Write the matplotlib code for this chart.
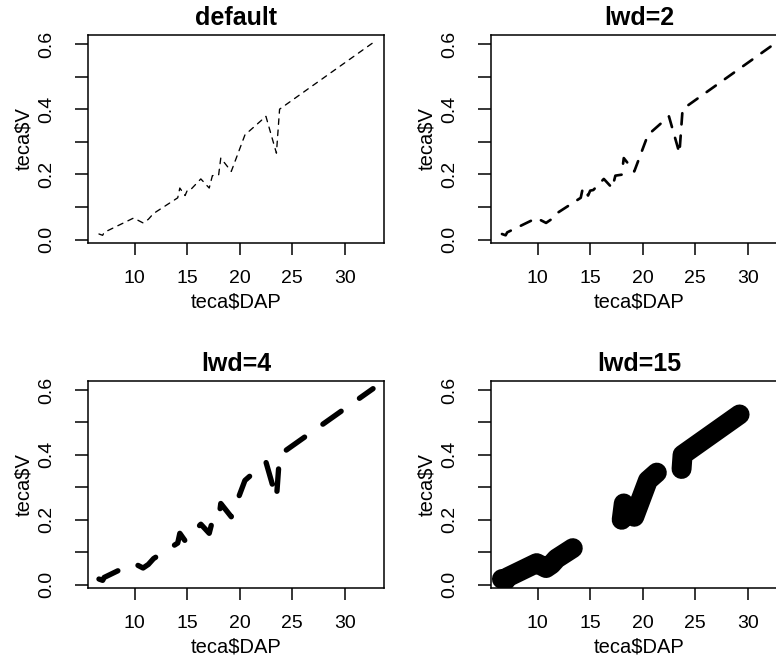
import numpy as np
import matplotlib
matplotlib.use("Agg")
import matplotlib.pyplot as plt

plt.rcParams['font.family'] = ['Liberation Sans', 'DejaVu Sans']

# teca data (line drawn in data order)
dap = [6.6, 6.95, 7.1, 9.9, 10.8, 11.3, 11.8, 14.1, 14.3, 14.8, 15.0, 15.3,
       16.3, 17.1, 17.4, 18.0, 18.2, 19.2, 20.5, 22.5, 23.5, 23.8, 32.7]
vol = [0.017, 0.013, 0.022, 0.066, 0.051, 0.062, 0.080, 0.128, 0.158, 0.135,
       0.150, 0.152, 0.186, 0.158, 0.196, 0.199, 0.250, 0.209, 0.321, 0.378,
       0.265, 0.400, 0.604]

titles = ["default", "lwd=2", "lwd=4", "lwd=15"]
lwds = [1, 2, 4, 15]
xticks = [10, 15, 20, 25, 30]
yticks = [0.0, 0.1, 0.2, 0.3, 0.4, 0.5, 0.6]
ytick_labels = ["0.0", "", "0.2", "", "0.4", "", "0.6"]

W, H = 776, 658
fig = plt.figure(figsize=(W / 100, H / 100), dpi=100)

# axes boxes in pixels: left, top, width, height
boxes = [(88, 35, 296, 208), (491, 35, 296, 208),
         (88, 381, 296, 207), (491, 381, 296, 207)]

LWD_PT = 0.96  # one R lwd unit in points at this size
DASH = 4.2     # R "dashed" pattern, in line widths


def r_range(v):
    lo, hi = min(v), max(v)
    pad = 0.04 * (hi - lo)
    return lo - pad, hi + pad


for (l, t, w, h), title, lwd in zip(boxes, titles, lwds):
    ax = fig.add_axes([l / W, (H - t - h) / H, w / W, h / H])
    ax.plot(dap, vol, color="black", linewidth=lwd * LWD_PT,
            linestyle=(0, (DASH, DASH)), dash_capstyle="round",
            dash_joinstyle="round", solid_capstyle="round")
    ax.set_xlim(*r_range(dap))
    ax.set_ylim(*r_range(vol))

    ax.set_xticks(xticks)
    ax.set_xticklabels([str(x) for x in xticks])
    ax.set_yticks(yticks)
    ax.set_yticklabels(ytick_labels, rotation=90, va="center")
    ax.tick_params(axis="x", length=8.6, width=1.1, pad=10.5, labelsize=14)
    ax.tick_params(axis="y", length=9.5, width=1.1, pad=14, labelsize=14)

    for sp in ax.spines.values():
        sp.set_linewidth(1.1)

    ax.set_title(title, fontsize=18, fontweight="bold", pad=7)
    ax.set_xlabel("teca$DAP", fontsize=14.5)
    ax.set_ylabel("teca$V", fontsize=14.5)
    ax.xaxis.set_label_coords(0.5, -0.285)
    ax.xaxis.label.set_va("center")
    ax.yaxis.set_label_coords(-0.216, 0.5)
    ax.yaxis.label.set_va("center")

fig.savefig("out.png", dpi=100)
